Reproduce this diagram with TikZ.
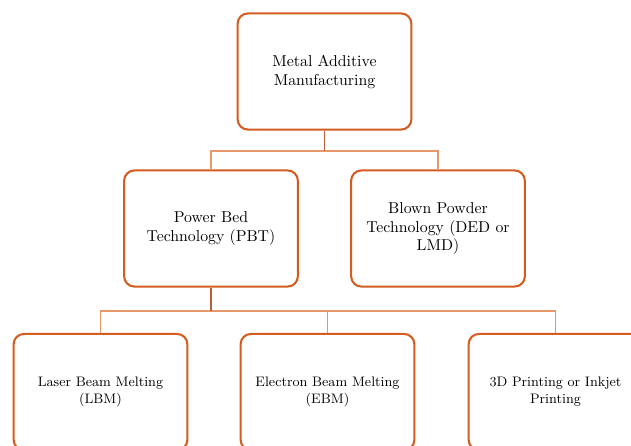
\documentclass[tikz,border=0pt]{standalone}
\usetikzlibrary{calc}
\definecolor{boxorange}{RGB}{212,92,32}
\definecolor{linelight}{RGB}{232,152,104}
\definecolor{linedark}{RGB}{184,96,58}
\tikzset{
  mabox/.style={draw=boxorange, line width=1.3pt, rounded corners=6.5pt, fill=white,
    minimum width=110pt, minimum height=73.5pt, inner sep=2pt, align=center, font=\normalsize},
  smallbox/.style={mabox, font=\fontsize{8.7}{10.8}\selectfont},
  parentline/.style={draw=linedark, line width=0.9pt},
  childline/.style={draw=linelight, line width=0.9pt},
}
\begin{document}
\begin{tikzpicture}[x=0.633pt,y=-0.633pt]
\useasboundingbox (0,0) rectangle (631,446);
\clip (0,0) rectangle (631,446);
\node[mabox] (top) at (324.5,71.5) {Metal Additive\\Manufacturing};
\node[mabox] (pbt) at (211,228.5) {Power Bed\\Technology (PBT)};
\node[mabox] (bpt) at (438,228.5) {Blown Powder\\Technology (DED or\\LMD)};
\node[smallbox] (lbm) at (100.5,392) {Laser Beam Melting\\(LBM)};
\node[smallbox] (ebm) at (327.5,392) {Electron Beam Melting\\(EBM)};
\node[smallbox] (tdp) at (555.5,392) {3D Printing or Inkjet\\Printing};
\coordinate (j1) at (324.5,151);
\coordinate (j2) at (211,311);
\draw[childline] (pbt.north) -- (pbt.north |- j1) -- (bpt.north |- j1) -- (bpt.north);
\draw[parentline] (top.south) -- (j1);
\draw[childline] (lbm.north) -- (lbm.north |- j2) -- (tdp.north |- j2) -- (tdp.north);
\draw[childline] (ebm.north) -- (ebm.north |- j2);
\draw[parentline] (pbt.south) -- (j2);
\end{tikzpicture}
\end{document}
